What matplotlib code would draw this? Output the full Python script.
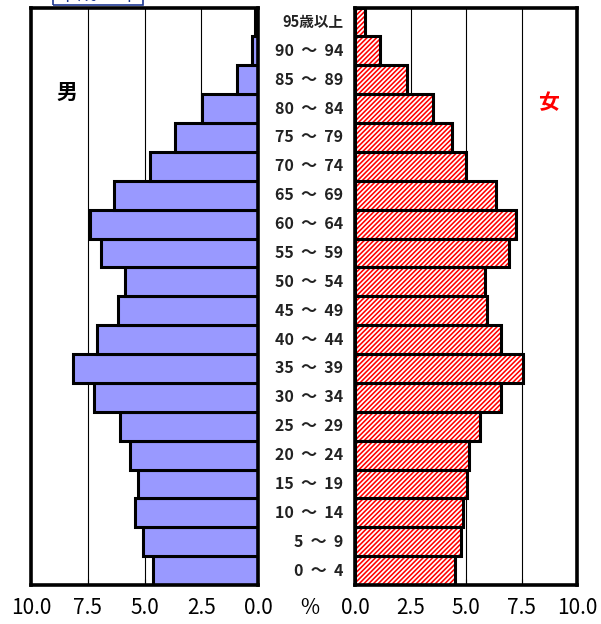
"""Population pyramid (male / female share by 5-year age group, %)."""

import matplotlib

matplotlib.use("Agg")
import matplotlib.pyplot as plt  # noqa: E402
from matplotlib.patches import Rectangle  # noqa: E402

plt.rcParams["font.family"] = ["Noto Sans CJK JP", "DejaVu Sans"]
plt.rcParams["hatch.linewidth"] = 1.15

# bottom (0-4) to top (95+)
age_labels = ["0 ～ 4", "5 ～ 9", "10 ～ 14", "15 ～ 19", "20 ～ 24",
              "25 ～ 29", "30 ～ 34", "35 ～ 39", "40 ～ 44", "45 ～ 49",
              "50 ～ 54", "55 ～ 59", "60 ～ 64", "65 ～ 69", "70 ～ 74",
              "75 ～ 79", "80 ～ 84", "85 ～ 89", "90 ～ 94", "95歳以上"]
male = [4.62, 5.06, 5.44, 5.29, 5.66, 6.08, 7.22, 8.17, 7.10, 6.17,
        5.88, 6.93, 7.40, 6.35, 4.74, 3.64, 2.47, 0.92, 0.26, 0.12]
female = [4.50, 4.79, 4.88, 5.03, 5.15, 5.63, 6.59, 7.55, 6.59, 5.93,
          5.87, 6.95, 7.25, 6.35, 4.99, 4.38, 3.53, 2.33, 1.13, 0.45]
xticks = [0.0, 2.5, 5.0, 7.5, 10.0]
xtick_labels = ["0.0", "2.5", "5.0", "7.5", "10.0"]

W, H = 601, 624
fig = plt.figure(figsize=(W / 100, H / 100), dpi=100)


def px_axes(x0, x1, y0, y1):
    # pixel box (top-origin) -> figure fractions
    return fig.add_axes([x0 / W, 1 - y1 / H, (x1 - x0) / W, (y1 - y0) / H])


ax_m = px_axes(31, 258, 7.5, 585)
ax_f = px_axes(355, 577, 7.5, 585)

ypos = list(range(len(age_labels)))

ax_m.barh(ypos, male, height=1.0, color="#9999FF", edgecolor="black",
          linewidth=2.2, zorder=2)
ax_f.barh(ypos, female, height=1.0, color="white", edgecolor="#FF0000",
          hatch="///////", linewidth=0, zorder=2)
ax_f.barh(ypos, female, height=1.0, fill=False, edgecolor="black",
          linewidth=2.2, zorder=3)

for ax in (ax_m, ax_f):
    ax.set_xlim(0, 10)
    ax.set_ylim(-0.5, len(age_labels) - 0.5)
    ax.set_yticks([])
    ax.set_xticks(xticks)
    ax.set_xticklabels(xtick_labels, fontsize=15)
    ax.tick_params(axis="x", direction="in", length=4.5, width=0.8,
                   pad=9, colors="black")
    for x in xticks[1:-1]:
        ax.axvline(x, color="black", lw=0.8, zorder=1)
    for s in ax.spines.values():
        s.set_linewidth(2.6)
        s.set_zorder(4)
ax_m.invert_xaxis()

# age-group labels between the two halves
for y, lab in zip(ypos, age_labels):
    fs = 10.5 if "歳" in lab else 11.5
    fig.text(343 / W, ax_m.transData.transform((0, y))[1] / H,
             lab.replace(" ", "  "), ha="right", va="center", fontsize=fs,
             fontweight="bold", color="#222222")

fig.text(67 / W, 1 - 92 / H, "男", ha="center", va="center", fontsize=15,
         fontweight="bold", color="black")
fig.text(548 / W, 1 - 103 / H, "女", ha="center", va="center", fontsize=15,
         fontweight="bold", color="#FF0000")
fig.text(310 / W, 1 - 608 / H, "%", ha="center", va="center", fontsize=15,
         color="black")

# caption box cut off by the top edge of the picture
fig.patches.append(Rectangle((53 / W, 1 - 5 / H), 90 / W, 30 / H,
                             transform=fig.transFigure, fill=False,
                             edgecolor="#1F3A93", lw=1.2))
fig.text(98 / W, 1 + 6 / H, "平成21年", ha="center", va="center",
         fontsize=14, color="#1F3A93")

fig.savefig("out.png", dpi=100)
